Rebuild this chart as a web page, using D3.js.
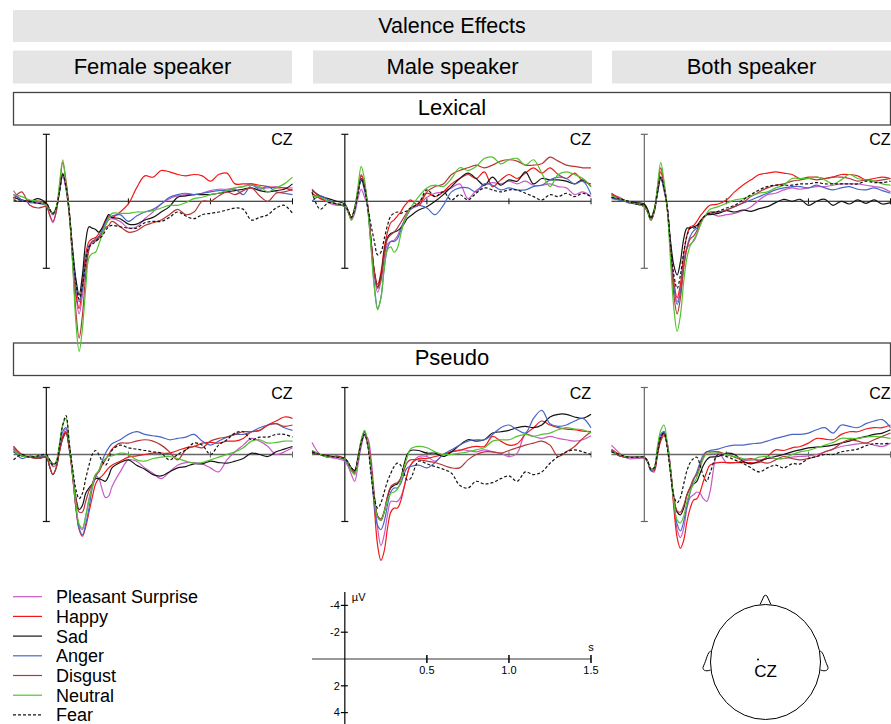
<!DOCTYPE html>
<html lang="en">
<head>
<meta charset="UTF-8">
<title>Valence Effects</title>
<script src="https://cdn.jsdelivr.net/npm/d3@7"></script>
<style>
  body { margin: 0; background: #fff; }
  svg { display: block; font-family: "Liberation Sans", Arial, sans-serif; }
</style>
</head>
<body>
<div id="chart"></div>
<script>
// sample times (s), denser around the early components
const times = [-0.2, -0.15, -0.1, -0.05,
  0, 0.02, 0.04, 0.06, 0.08, 0.1, 0.12, 0.14, 0.16, 0.18, 0.2,
  0.22, 0.24, 0.26, 0.28, 0.3, 0.32, 0.34, 0.36, 0.38, 0.4,
  0.45, 0.5, 0.55, 0.6, 0.65, 0.7, 0.75, 0.8, 0.85, 0.9, 0.95, 1.0,
  1.05, 1.1, 1.15, 1.2, 1.25, 1.3, 1.35, 1.4, 1.45, 1.5];

const conditions = ["Pleasant Surprise", "Happy", "Sad", "Anger", "Disgust", "Neutral", "Fear"];
const colors = ["#c75ac7", "#f21818", "#141414", "#4a66c4", "#b53636", "#52c22e", "#141414"];
const dashes = [null, null, null, null, null, null, "3,2"];

const speakers = ["Female speaker", "Male speaker", "Both speaker"];
const wordTypes = ["Lexical", "Pseudo"];

// grand averages at CZ in µV (negative up), one row per condition
const femaleLexical = [
  [-0.8,-0.1,0.0,0.1,0.3, 1.0,1.6,0.8,-0.8,-1.9,-0.9, 1.0,4.0,7.0,8.4,7.0,4.8,3.5,3.0,3.0,2.8,2.4,1.8,1.4,1.3, 1.5,2.0,1.9,1.3,0.8,0.2,-0.2,-0.4,-0.5,-0.5,-0.6,-0.8,-0.9,-0.9,-1.0,-1.1,-1.3,-1.0,-1.0,-1.1,-1.0,-1.0],
  [-0.3,-0.1,0.0,0.0,0.15, 0.6,1.0,0.5,-0.8,-2.1,-1.0, 1.0,4.0,6.8,8.0,6.2,4.0,3.0,2.8,2.7,2.4,2.0,1.4,1.1,1.2, 0.8,0.2,-1.0,-1.9,-1.8,-2.3,-2.2,-2.0,-1.9,-2.0,-1.9,-1.5,-2.0,-2.1,-1.3,-1.3,-1.3,-1.2,-1.1,-1.0,-1.0,-0.8],
  [-0.3,-0.1,0.0,-0.2,0.15, 0.6,0.9,0.5,-0.7,-2.0,-1.3, 0.8,3.5,5.8,7.0,5.5,3.0,1.9,2.0,2.1,2.3,2.0,1.5,1.0,1.2, 1.3,1.7,1.7,1.4,1.2,0.8,0.4,-0.3,-0.4,-0.5,-0.5,-0.5,-0.6,-0.7,-0.8,-0.9,-1.0,-0.8,-0.7,-0.8,-0.9,-1.3],
  [-0.5,-0.1,0.1,0.15,0.3, 0.6,1.0,0.6,-0.7,-2.0,-1.0, 0.9,3.8,6.3,7.5,6.5,4.5,3.3,3.0,2.8,2.6,2.2,1.6,1.2,1.1, 1.0,1.5,1.1,0.8,0.6,0.2,-0.3,-0.5,-0.6,-0.5,-0.6,-0.7,-0.8,-0.8,-0.9,-0.5,-1.2,-0.9,-1.1,-0.7,-0.6,-0.5],
  [-0.2,-0.7,0.3,0.5,0.4, 1.0,1.5,0.8,-1.0,-2.9,-1.5, 0.9,4.5,8.2,10.2,8.5,5.5,3.6,3.0,2.9,2.7,2.4,2.0,1.8,1.5, 1.9,2.3,2.2,1.8,1.6,1.4,1.0,0.6,1.0,0.8,0.0,0.0,-0.4,-0.7,-0.5,-0.8,-1.0,-0.4,0.0,-0.6,-0.7,-0.9],
  [-0.5,-0.35,-0.1,0.0,0.3, 0.6,0.9,0.5,-1.3,-3.1,-1.2, 0.8,4.5,9.0,11.2,9.5,6.5,4.2,3.9,3.8,3.2,2.5,1.8,1.3,0.9, 0.9,0.9,0.8,0.8,0.7,0.5,0.3,0.3,0.1,-0.2,-0.3,-0.5,-0.6,-0.8,-1.0,-1.1,-1.2,-1.1,-0.7,-1.0,-1.3,-1.8],
  [-0.1,0.0,0.0,0.15,0.15, 0.6,0.9,0.5,-0.7,-2.0,-1.1, 0.8,3.8,6.0,7.3,6.3,4.5,3.4,3.2,3.0,2.8,2.6,2.2,1.9,1.8, 1.9,2.0,2.0,1.6,1.5,1.5,1.2,0.8,1.1,1.3,1.0,0.9,0.8,0.65,0.5,0.6,1.4,1.2,1.0,0.5,0.3,0.9]
];

const maleLexical = [
  [-0.5,-0.3,0.1,0.3,0.3, 0.8,1.4,0.9,-0.2,-0.9,-0.3, 0.4,3.0,5.5,6.8,6.0,4.3,3.2,3.0,2.9,2.6,2.0,1.5,1.0,0.6, 0.3,-0.3,-0.6,-0.7,-1.0,-1.3,-0.2,-0.8,-1.2,-1.4,-1.3,-1.5,-1.3,-1.5,-1.2,-1.2,-1.3,-1.1,-1.0,-0.5,-0.7,-0.35],
  [-0.6,-0.2,0.0,0.2,0.4, 0.7,1.2,0.6,-0.8,-1.9,-1.2, 0.4,3.0,5.2,6.2,5.3,3.5,2.3,1.6,1.4,1.1,0.8,0.4,0.1,-0.1, 0.3,-0.6,-0.35,-0.7,-1.3,-1.7,-2.0,-1.7,-2.2,-1.1,-1.6,-2.0,-1.7,-2.1,-2.5,-2.1,-2.5,-2.0,-1.7,-2.1,-1.5,-1.3],
  [-0.8,-0.4,-0.2,0.0,0.2, 0.7,1.2,0.5,-0.7,-1.7,-1.0, 0.4,3.0,5.3,6.4,5.6,3.8,2.7,2.4,2.3,2.2,2.0,1.7,1.3,1.1, 0.65,0.4,0.0,-0.5,-1.1,-1.7,-2.1,-1.7,-1.2,-1.8,-1.2,-1.6,-1.5,-2.2,-1.3,-1.7,-1.6,-1.6,-1.5,-1.3,-1.6,-1.1],
  [0.0,-0.4,-0.1,0.2,0.4, 0.8,1.3,0.7,-0.6,-1.6,-0.8, 0.6,3.4,6.3,8.0,7.2,5.0,3.5,3.0,3.0,2.8,2.2,1.5,1.0,0.6, 0.3,0.5,1.0,0.3,-0.7,-1.0,-1.0,-0.7,-1.3,-1.2,-0.85,-1.0,-0.85,-0.85,-1.1,-1.2,-1.6,-1.8,-1.7,-1.3,-1.5,-0.5],
  [-0.9,-0.3,0.0,0.2,0.3, 0.7,1.2,0.5,-0.8,-2.0,-1.3, 0.4,3.0,5.3,6.5,5.8,4.0,2.8,2.5,2.3,2.0,1.6,1.2,0.8,0.5, 0.15,-0.7,-1.1,-1.3,-2.0,-2.3,-2.5,-2.7,-2.5,-2.7,-3.0,-3.1,-3.0,-2.7,-2.7,-2.8,-3.3,-3.0,-2.7,-2.6,-2.5,-2.5],
  [-0.4,-0.3,0.0,0.2,0.3, 0.8,1.4,0.5,-1.1,-2.6,-1.6, 0.6,3.5,6.5,8.1,7.2,5.0,3.6,3.4,3.8,3.5,2.5,1.6,1.0,0.5, -0.35,-1.0,-1.2,-1.1,-1.7,-2.5,-2.3,-2.6,-3.2,-3.3,-2.8,-3.1,-3.2,-2.7,-3.1,-2.1,-1.1,-2.0,-2.2,-2.0,-1.7,-1.1],
  [-0.7,0.6,0.1,0.2,0.3, 0.7,1.2,0.6,-0.6,-1.6,-1.0, 0.5,1.8,3.0,4.0,3.8,2.8,1.8,1.1,0.9,0.8,0.9,0.8,0.7,0.5, 0.15,-0.85,-0.35,-0.7,-0.1,-0.5,-0.1,-0.6,-1.0,-0.85,-0.7,-0.85,-0.85,-0.6,-0.35,-0.1,-0.5,-0.35,-0.6,-0.35,-0.6,-0.35]
];

const bothLexical = [
  [-0.5,-0.3,0.1,0.2,0.4, 0.8,1.4,0.8,-0.6,-1.8,-0.8, 0.5,3.5,6.2,7.5,6.5,4.5,3.5,3.2,3.0,2.5,1.8,1.2,1.0,0.9, 1.1,1.0,0.9,0.7,0.4,-0.1,-0.5,-0.6,-0.85,-1.0,-0.9,-1.0,-1.1,-1.1,-1.2,-1.3,-1.3,-1.3,-1.2,-1.1,-1.0,-0.7],
  [-0.6,-0.2,0.0,0.2,0.3, 0.7,1.3,0.7,-0.8,-2.2,-1.2, 0.5,3.4,6.0,7.2,6.2,4.0,2.5,1.9,1.8,1.5,1.1,0.8,0.5,0.3, 0.2,-0.1,-0.7,-1.2,-1.6,-2.0,-2.1,-2.2,-2.1,-2.0,-1.7,-1.8,-1.8,-1.7,-1.8,-2.0,-2.0,-1.9,-1.6,-1.7,-1.8,-1.7],
  [-0.3,-0.1,0.0,0.1,0.2, 0.6,1.2,0.6,-0.6,-1.7,-1.0, 0.5,3.0,4.8,5.5,4.5,2.8,2.0,2.0,1.9,1.8,1.5,1.2,1.0,1.0, 0.9,0.7,0.8,0.65,0.75,0.55,0.4,0.1,-0.15,0.0,-0.15,0.3,0.0,-0.15,0.3,0.0,0.2,-0.1,0.15,-0.1,0.2,0.1],
  [-0.2,-0.1,0.1,0.2,0.4, 0.8,1.4,0.8,-0.6,-1.8,-0.9, 0.5,3.6,6.4,7.7,6.8,4.8,3.4,2.6,2.2,2.0,1.6,1.2,1.0,0.9, 0.8,0.65,0.4,0.15,-0.1,-0.35,-0.6,-0.85,-1.0,-1.1,-1.1,-1.0,-1.2,-1.0,-0.85,-1.0,-1.1,-0.9,-0.85,-1.0,-0.8,-0.6],
  [-0.5,-0.2,0.0,0.2,0.4, 0.8,1.4,0.8,-1.0,-2.5,-1.3, 0.6,3.8,7.0,8.4,7.2,5.0,3.5,2.8,2.6,2.2,1.6,1.2,1.0,0.8, 0.8,0.65,0.4,0.1,-0.35,-0.7,-1.0,-1.2,-1.3,-1.5,-1.6,-1.7,-1.6,-1.7,-1.8,-1.8,-1.7,-1.5,-1.6,-1.5,-1.6,-1.7],
  [-0.4,-0.2,0.0,0.2,0.4, 0.8,1.4,0.7,-1.1,-2.9,-1.5, 0.6,4.5,8.0,9.7,8.5,6.0,4.2,3.3,2.9,2.4,1.8,1.3,0.9,0.6, 0.4,0.15,-0.1,-0.2,-0.4,-0.6,-0.7,-1.0,-1.2,-1.7,-1.7,-1.7,-1.8,-1.6,-1.3,-1.6,-2.0,-1.7,-1.6,-1.5,-1.3,-1.2],
  [-0.3,-0.2,0.0,0.2,0.3, 0.7,1.3,0.7,-0.7,-1.8,-1.0, 0.5,3.3,5.5,6.5,5.5,3.8,2.6,2.0,2.0,1.9,1.5,1.2,1.0,0.9, 0.75,0.5,0.3,-0.1,-0.5,-0.85,-1.1,-1.2,-1.2,-1.2,-1.3,-1.3,-1.4,-1.3,-1.3,-1.3,-1.3,-1.3,-1.5,-1.4,-1.4,-1.5]
];

const femalePseudo = [
  [-0.5,0.1,0.2,0.2,0.2, 0.5,0.9,0.8,-0.4,-1.4,-1.9, -0.6,1.5,3.8,5.3,5.6,4.6,3.3,2.3,1.6,1.8,2.6,3.2,3.1,2.4, 1.3,0.4,0.5,1.0,1.4,1.8,1.3,0.8,0.6,0.6,0.7,1.0,1.3,0.4,-0.2,-0.7,-1.2,-1.0,-0.6,0.0,-0.2,-0.5],
  [-0.6,0.0,0.2,0.2,0.1, 0.4,0.7,0.6,-0.4,-1.3,-1.7, -0.6,1.6,4.0,5.6,6.1,5.4,4.3,3.2,2.2,1.8,1.6,1.3,1.0,0.8, 0.5,0.2,0.1,0.0,-0.1,-0.1,-0.1,-0.3,-0.5,-0.6,-0.85,-0.9,-0.85,-1.0,-1.0,-1.2,-1.7,-1.8,-2.2,-2.5,-2.8,-2.7],
  [-0.2,0.1,0.2,0.3,0.2, 0.9,1.5,1.0,-0.2,-1.2,-1.6, -0.4,1.4,3.2,4.1,3.8,2.9,2.5,2.2,1.8,1.8,1.9,2.0,1.6,1.0, 0.6,0.4,0.8,1.1,1.5,1.6,1.3,1.0,0.9,0.7,0.7,0.5,0.6,0.65,0.5,0.3,-0.1,0.0,0.15,-0.2,-0.4,-0.6],
  [-0.4,0.3,0.1,0.2,0.1, 0.4,0.7,0.6,-0.6,-1.7,-2.0, -0.7,1.5,3.9,5.5,6.0,5.2,4.0,2.5,1.7,1.2,0.5,-0.1,-0.5,-0.8, -1.1,-1.5,-1.7,-1.5,-1.4,-1.3,-1.1,-1.2,-1.3,-1.5,-1.0,-0.7,-1.0,-1.3,-1.5,-1.5,-1.7,-2.0,-2.2,-2.3,-2.0,-1.8],
  [-0.6,0.0,0.2,0.3,0.2, 0.9,1.5,1.0,-0.2,-1.2,-1.6, -0.4,1.5,3.3,4.3,4.3,3.5,2.7,2.2,1.5,1.3,0.8,0.4,0.0,-0.4, -0.85,-0.85,-1.0,-1.1,-1.0,-0.7,-0.2,0.4,-0.35,-0.6,-0.5,-1.0,-1.2,-1.3,-1.5,-1.7,-1.7,-1.8,-2.2,-2.3,-2.1,-2.2],
  [-0.3,0.1,0.2,0.1,0.1, 0.5,0.8,0.5,-0.8,-2.2,-2.7, -0.8,1.4,3.7,5.2,5.5,4.6,3.4,2.4,1.5,1.2,0.6,0.3,0.1,0.1, -0.1,0.0,0.4,0.5,0.3,0.2,0.15,0.3,0.5,0.65,0.6,0.4,0.2,0.0,-0.2,-0.5,-1.0,-1.1,-0.85,-0.9,-1.0,-1.0],
  [0.4,0.0,0.2,0.1,0.0, 0.4,0.8,0.6,-0.6,-2.2,-2.9, -0.8,1.0,2.6,3.3,2.9,1.8,0.8,0.0,-0.3,0.0,0.5,0.8,0.4,-0.3, -0.7,-0.5,-0.4,-0.3,-0.2,-0.1,0.4,0.0,-0.35,-0.85,-0.7,0.0,-0.7,-1.1,-1.6,-1.7,-1.1,-1.3,-1.3,-1.5,-1.5,-1.3]
];

const malePseudo = [
  [-0.9,0.0,0.2,0.3,0.5, 0.9,1.5,2.0,0.8,-0.6,-1.4, -1.2,0.3,3.0,5.5,6.8,6.0,4.5,3.5,3.5,3.5,3.2,2.5,1.5,0.8, 0.15,0.15,0.5,0.0,-0.2,-0.35,-0.3,-0.2,-0.35,-0.2,-0.1,0.15,-0.1,-1.5,-1.35,-1.2,-1.35,-1.2,-1.1,-1.0,-1.1,-1.4],
  [-0.3,0.0,0.2,0.1,0.3, 0.6,1.2,1.3,0.3,-0.9,-1.5, -1.0,0.8,4.0,6.8,7.9,7.2,5.5,4.3,4.0,4.0,3.5,2.5,1.5,0.8, 0.3,0.3,0.15,0.0,-0.2,-0.3,-0.5,-0.6,-0.6,-1.35,-1.0,-0.7,-0.8,-1.5,-2.0,-2.5,-2.2,-2.0,-1.9,-1.85,-1.75,-1.7],
  [-0.1,0.0,0.1,0.2,0.3, 0.6,1.0,1.2,0.2,-1.0,-1.7, -0.8,1.0,3.2,4.6,4.9,4.3,3.2,2.5,2.3,2.2,1.8,0.8,0.0,-0.3, -0.3,-0.1,-0.1,0.15,-0.2,-0.7,-1.1,-1.0,-1.1,-1.6,-1.7,-1.8,-2.0,-2.1,-2.0,-2.2,-2.8,-3.0,-3.0,-2.8,-2.7,-3.0],
  [-0.2,0.0,0.2,0.2,0.4, 0.7,1.2,1.4,0.4,-0.8,-1.5, -0.9,1.2,3.8,5.3,5.6,5.0,3.8,2.8,2.5,2.5,2.2,1.5,1.0,0.9, 0.8,1.0,0.6,0.0,-0.35,-0.7,-1.0,-1.1,-1.1,-1.5,-2.0,-2.2,-1.85,-1.6,-2.7,-3.3,-2.3,-2.1,-2.2,-2.5,-2.7,-2.0],
  [-0.1,0.0,0.1,0.2,0.3, 0.6,1.1,1.3,0.3,-0.9,-1.5, -0.8,1.0,3.2,4.6,4.8,4.2,3.1,2.4,2.2,2.1,1.8,1.2,0.6,0.4, 0.4,0.5,0.6,0.8,1.0,1.0,0.4,0.0,-0.2,-0.2,-0.1,-0.3,-0.5,-0.7,-0.85,-1.0,-0.7,0.15,-0.2,-0.6,-1.2,-1.7],
  [-0.3,0.0,0.2,0.2,0.3, 0.6,1.2,1.5,0.3,-1.1,-1.8, -0.9,1.1,3.3,4.7,4.9,4.3,3.4,2.9,2.8,2.6,2.0,1.0,0.2,-0.4, -0.6,-0.5,-0.2,0.0,0.0,-0.1,-0.2,-0.35,-0.5,-1.0,-1.1,-1.1,-1.35,-1.5,-1.35,-1.5,-1.6,-1.85,-2.0,-1.9,-1.85,-1.6],
  [-0.2,0.0,0.1,0.2,0.3, 0.6,1.0,1.2,0.3,-0.9,-1.5, -0.6,1.5,3.3,4.0,3.6,2.8,2.0,1.4,0.9,0.65,0.8,1.4,1.9,1.8, 0.5,0.7,0.9,1.1,1.4,2.3,2.5,2.0,2.2,2.1,1.8,1.6,2.0,1.3,1.5,1.3,0.65,0.15,-0.2,-0.35,-0.2,0.0]
];

const bothPseudo = [
  [-0.7,-0.1,0.3,0.3,0.3, 0.6,1.2,1.3,0.0,-1.2,-1.5, -0.8,1.0,3.6,5.6,6.2,5.5,4.0,3.2,3.0,2.8,2.9,3.3,3.5,2.8, -0.2,0.6,0.6,0.5,0.4,0.4,0.3,0.3,0.3,0.2,0.15,0.1,0.0,-0.2,-0.4,-0.6,-0.7,-0.8,-0.85,-0.7,-0.6,-0.85],
  [-0.4,0.0,0.2,0.2,0.2, 0.5,1.2,1.2,0.0,-1.0,-1.4, -0.8,1.2,4.0,6.2,7.0,6.4,5.0,4.0,3.4,3.3,2.8,2.0,1.3,0.8, 0.6,0.6,0.6,0.6,0.6,0.6,0.15,-0.35,-0.3,-0.5,-0.6,-0.85,-1.2,-1.15,-1.1,-1.5,-1.7,-1.7,-1.9,-2.0,-2.0,-2.2],
  [-0.3,0.1,0.2,0.2,0.2, 0.5,1.1,1.0,-0.1,-1.2,-1.7, -0.6,1.2,3.3,4.3,4.5,4.0,3.0,2.5,2.2,2.0,1.4,0.8,0.4,0.2, 0.15,-0.1,0.0,0.5,0.7,0.5,0.3,0.15,0.0,-0.2,-0.35,-0.5,-0.55,-0.6,-0.7,-0.85,-1.0,-1.2,-1.35,-1.5,-1.6,-1.85],
  [-0.3,0.1,0.2,0.2,0.2, 0.5,1.2,1.0,-0.4,-1.5,-1.7, -0.8,1.2,3.5,5.2,5.7,5.0,3.8,2.8,1.9,1.3,0.6,0.0,-0.2,-0.3, -0.4,-0.6,-0.7,-0.7,-0.8,-0.85,-1.0,-1.2,-1.35,-1.5,-1.5,-1.6,-1.85,-2.0,-1.6,-2.2,-2.1,-2.0,-2.3,-2.5,-2.6,-2.0],
  [-0.3,0.1,0.2,0.2,0.2, 0.5,1.1,1.0,-0.1,-1.2,-1.6, -0.6,1.2,3.2,4.2,4.3,3.8,3.0,2.4,1.8,1.5,0.8,0.2,-0.2,-0.2, -0.2,0.0,0.2,0.4,0.3,0.5,0.65,0.4,0.15,0.3,0.4,0.3,0.15,-0.2,-0.4,-0.85,-1.1,-1.0,-0.85,-1.1,-1.35,-1.6],
  [-0.2,0.0,0.2,0.2,0.2, 0.5,1.1,1.0,-0.6,-1.8,-2.2, -0.8,1.2,3.5,4.9,5.1,4.6,3.5,2.7,2.2,1.7,1.0,0.3,-0.1,-0.1, -0.1,0.0,0.15,0.3,0.4,0.2,0.15,0.3,0.3,0.0,-0.2,-0.3,-0.5,-0.7,-0.9,-1.2,-1.2,-1.2,-1.3,-1.35,-1.3,-1.2],
  [-0.2,0.0,0.2,0.2,0.2, 0.5,1.1,1.0,-0.2,-1.3,-1.6, -0.5,1.5,3.1,3.6,3.2,2.2,1.2,0.6,0.3,0.2,0.8,1.6,2.0,1.4, 0.0,0.15,0.4,0.65,1.0,1.3,1.0,0.8,1.0,0.7,0.7,0.3,0.15,0.0,0.0,-0.2,-0.3,-0.4,-0.65,-0.8,-0.8,-0.85]
];

const panels = [
  [femaleLexical, maleLexical, bothLexical],
  [femalePseudo, malePseudo, bothPseudo]
];

// scale bar ticks
const timeTicks = [0.5, 1.0, 1.5];
const voltTicks = [-4, -2, 2, 4];

const W = 891, H = 724;
const panelW = 279;
const colLeft = [13.5, 312, 611.5];
const rowZero = [201.3, 454.5];
const pxPerUV = 13.4;
const greyFill = "#e5e5e5";

const svg = d3.select("#chart").append("svg")
    .attr("width", W)
    .attr("height", H);

// title strip
svg.append("rect")
    .attr("x", 13).attr("y", 10).attr("width", W - 13).attr("height", 32)
    .attr("fill", greyFill);
svg.append("text")
    .attr("x", 452).attr("y", 32.5)
    .attr("text-anchor", "middle")
    .style("font-size", "21.5px")
    .text("Valence Effects");

// speaker strips
speakers.forEach((s, i) => {
  const left = [13, 313, 612][i];
  svg.append("rect")
      .attr("x", left).attr("y", 50.5).attr("width", panelW).attr("height", 33)
      .attr("fill", greyFill);
  svg.append("text")
      .attr("x", left + panelW / 2).attr("y", 73.5)
      .attr("text-anchor", "middle")
      .style("font-size", "22px")
      .text(s);
});

// word type strips
wordTypes.forEach((w, r) => {
  const top = [92.5, 343][r];
  svg.append("rect")
      .attr("x", 13.5).attr("y", top).attr("width", 877).attr("height", 32.5)
      .attr("fill", "#fff")
      .attr("stroke", "#444")
      .attr("stroke-width", 1.3);
  svg.append("text")
      .attr("x", 452).attr("y", top + 22)
      .attr("text-anchor", "middle")
      .style("font-size", "22px")
      .text(w);
});

function drawPanel(series, left, zeroY, hColor, vColor, hWidth) {
  const g = svg.append("g");
  const x = d3.scaleLinear().domain([-0.2, 1.5]).range([left, left + panelW]);
  const y = d3.scaleLinear().domain([-5, 5]).range([zeroY - 5 * pxPerUV, zeroY + 5 * pxPerUV]);

  // time axis with ticks
  g.append("line")
      .attr("x1", x(-0.2)).attr("x2", x(1.5))
      .attr("y1", y(0)).attr("y2", y(0))
      .attr("stroke", hColor).attr("stroke-width", hWidth);
  g.selectAll(".tt").data(timeTicks).join("line")
      .attr("x1", d => x(d)).attr("x2", d => x(d))
      .attr("y1", y(0) - 3).attr("y2", y(0) + 3)
      .attr("stroke", hColor).attr("stroke-width", 1);

  // amplitude bar at stimulus onset
  g.append("line")
      .attr("x1", x(0)).attr("x2", x(0))
      .attr("y1", y(-5)).attr("y2", y(5))
      .attr("stroke", vColor).attr("stroke-width", 1.2);
  [-5, 5].forEach(v => {
    g.append("line")
        .attr("x1", x(0) - 3.5).attr("x2", x(0) + 3.5)
        .attr("y1", y(v)).attr("y2", y(v))
        .attr("stroke", vColor).attr("stroke-width", 1.2);
  });

  g.append("text")
      .attr("x", x(1.5)).attr("y", zeroY - 56)
      .attr("text-anchor", "end")
      .style("font-size", "16px")
      .text("CZ");

  const line = d3.line()
      .x((d, i) => x(times[i]))
      .y(d => y(d))
      .curve(d3.curveCatmullRom.alpha(0.5));

  series.forEach((vals, k) => {
    g.append("path")
        .datum(vals)
        .attr("fill", "none")
        .attr("stroke", colors[k])
        .attr("stroke-width", 1.2)
        .attr("stroke-dasharray", dashes[k])
        .attr("d", line);
  });
}

panels.forEach((row, r) => {
  row.forEach((series, c) => {
    const hColor = r === 0 ? "#111" : "#666";
    const vColor = c === 2 ? "#666" : "#111";
    drawPanel(series, colLeft[c], rowZero[r], hColor, vColor, r === 0 ? 1.1 : 1.6);
  });
});

// legend
conditions.forEach((name, k) => {
  const ly = 596.7 + k * 19.7;
  svg.append("line")
      .attr("x1", 13).attr("x2", 42)
      .attr("y1", ly).attr("y2", ly)
      .attr("stroke", colors[k])
      .attr("stroke-width", 1.2)
      .attr("stroke-dasharray", dashes[k]);
  svg.append("text")
      .attr("x", 56).attr("y", ly + 6.5)
      .style("font-size", "18px")
      .text(name);
});

// scale bar
{
  const g = svg.append("g");
  const x = d3.scaleLinear().domain([-0.2, 1.5]).range([312, 312 + panelW]);
  const y = d3.scaleLinear().domain([-5, 5]).range([659 - 5 * pxPerUV, 659 + 5 * pxPerUV]);

  g.append("line")
      .attr("x1", x(-0.2)).attr("x2", x(1.5))
      .attr("y1", y(0)).attr("y2", y(0))
      .attr("stroke", "#777").attr("stroke-width", 1.6);
  g.append("line")
      .attr("x1", x(0)).attr("x2", x(0))
      .attr("y1", 592).attr("y2", H)
      .attr("stroke", "#000").attr("stroke-width", 1.2);

  g.selectAll(".vt").data(voltTicks).join("line")
      .attr("x1", x(0) - 4).attr("x2", x(0) + 3)
      .attr("y1", d => y(d)).attr("y2", d => y(d))
      .attr("stroke", "#000").attr("stroke-width", 1.2);
  g.selectAll(".vl").data(voltTicks).join("text")
      .attr("x", x(0) - 5).attr("y", d => y(d))
      .attr("dy", "0.35em")
      .attr("text-anchor", "end")
      .style("font-size", "11px")
      .text(d => d);

  g.selectAll(".ht").data(timeTicks).join("line")
      .attr("x1", d => x(d)).attr("x2", d => x(d))
      .attr("y1", y(0) - 4).attr("y2", y(0) + 4)
      .attr("stroke", "#000").attr("stroke-width", 1.5);
  g.selectAll(".hl").data(timeTicks).join("text")
      .attr("x", d => x(d)).attr("y", y(0) + 15)
      .attr("text-anchor", "middle")
      .style("font-size", "11px")
      .text(d => d.toFixed(1));

  g.append("text")
      .attr("x", x(0) + 7).attr("y", 601)
      .style("font-size", "11px")
      .text("\u00b5V");
  g.append("text")
      .attr("x", x(1.5)).attr("y", 651)
      .attr("text-anchor", "middle")
      .style("font-size", "11px")
      .text("s");
}

// electrode map
{
  const g = svg.append("g").attr("fill", "none").attr("stroke", "#000").attr("stroke-width", 1);
  const cx = 765.5, cy = 662, rx = 55, ry = 57.5;
  g.append("path")
      .attr("d", `M${cx - 5.5},${cy - ry + 0.2} L${cx - 1.5},${cy - ry - 8.5} Q${cx},${cy - ry - 10} ${cx + 1.5},${cy - ry - 8.5} L${cx + 5.5},${cy - ry + 0.2}`)
      .attr("fill", "#fff");
  g.append("path")
      .attr("d", `M${cx - rx + 0.3},${cy - 11} C${cx - rx - 3},${cy - 10} ${cx - rx - 4},${cy - 2} ${cx - rx - 7},${cy + 4} C${cx - rx - 9},${cy + 8} ${cx - rx - 5},${cy + 10} ${cx - rx},${cy + 8}`)
      .attr("fill", "#fff");
  g.append("path")
      .attr("d", `M${cx + rx - 0.3},${cy - 11} C${cx + rx + 3},${cy - 10} ${cx + rx + 4},${cy - 2} ${cx + rx + 7},${cy + 4} C${cx + rx + 9},${cy + 8} ${cx + rx + 5},${cy + 10} ${cx + rx},${cy + 8}`)
      .attr("fill", "#fff");
  g.append("ellipse")
      .attr("cx", cx).attr("cy", cy).attr("rx", rx).attr("ry", ry)
      .attr("fill", "#fff");
  svg.append("circle").attr("cx", cx - 7.5).attr("cy", cy - 2.5).attr("r", 1).attr("fill", "#000");
  svg.append("text")
      .attr("x", cx).attr("y", cy + 15)
      .attr("text-anchor", "middle")
      .style("font-size", "17px")
      .text("CZ");
}
</script>
</body>
</html>
